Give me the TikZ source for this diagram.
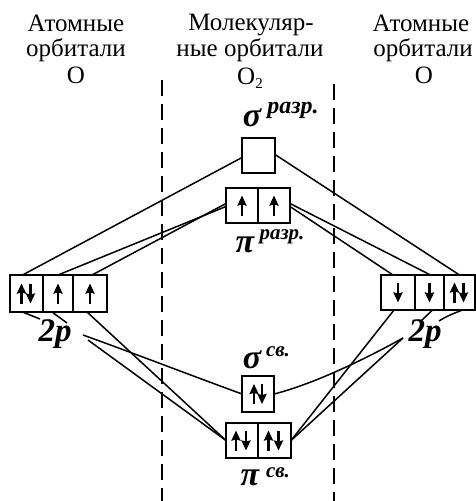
\documentclass[tikz,border=0pt]{standalone}
\usepackage{fontspec}
\setmainfont{Liberation Serif}
\usetikzlibrary{arrows.meta,calc}
\tikzset{
  x=1pt,y=-1pt,
  cell/.style={draw,line width=2.3pt,inner sep=0pt,outer sep=0pt},
  spin/.style={line width=2.2pt,-{Stealth[length=10pt,width=9pt,inset=1pt]}},
  conn/.style={line width=1.5pt},
  dashline/.style={line width=1.8pt,dash pattern=on 16pt off 8pt},
  head/.style={font=\fontsize{25}{25}\selectfont,inner sep=0pt},
  hand/.style={font=\fontsize{34}{34}\bfseries\itshape\selectfont,inner sep=0pt},
  handsmall/.style={font=\fontsize{21}{21}\bfseries\itshape\selectfont,inner sep=0pt},
  handmid/.style={font=\fontsize{24}{24}\bfseries\itshape\selectfont,inner sep=0pt},
  twop/.style={font=\fontsize{33}{33}\bfseries\itshape\selectfont,inner sep=0pt},
}
\newcommand{\spinup}[2][0]{\draw[spin] ([xshift=#1 pt,yshift=-10pt]#2.center) -- ([xshift=#1 pt,yshift=10pt]#2.center);}
\newcommand{\spindown}[2][0]{\draw[spin] ([xshift=#1 pt,yshift=10pt]#2.center) -- ([xshift=#1 pt,yshift=-10pt]#2.center);}
\begin{document}
\begin{tikzpicture}
\useasboundingbox (0,0) rectangle (476,501);
% headings
\node[head] (h1a) at (76,23) {Атомные};
\node[head] (h1b) at (76,50) {орбитали};
\node[head] (h1c) at (76,75) {О};
\node[head] (h2a) at (251,25) {Молекуляр-};
\node[head] (h2b) at (250,50) {ные орбитали};
\node[head] (h2c) at (250,78) {О\raisebox{-4pt}{\fontsize{15}{15}\selectfont 2}};
\node[head] (h3a) at (421,23) {Атомные};
\node[head] (h3b) at (423,50) {орбитали};
\node[head] (h3c) at (424,75) {О};
% dashed separators
\coordinate (d1a) at (162,80); \coordinate (d1b) at (162,501);
\coordinate (d2a) at (334,84); \coordinate (d2b) at (334,501);
\draw[dashline] (d1a) -- (d1b);
\draw[dashline] (d2a) -- (d2b);
% left atomic orbitals
\node[cell,minimum width=33pt,minimum height=37pt] (l1) at (26.5,293.5) {};
\node[cell,minimum width=30pt,minimum height=37pt] (l2) at (58,293.5) {};
\node[cell,minimum width=34pt,minimum height=37pt] (l3) at (90,293.5) {};
% right atomic orbitals
\node[cell,minimum width=34pt,minimum height=35pt] (r1) at (398,292.5) {};
\node[cell,minimum width=29pt,minimum height=35pt] (r2) at (429.5,292.5) {};
\node[cell,minimum width=31pt,minimum height=35pt] (r3) at (459.5,292.5) {};
% molecular orbitals
\node[cell,minimum width=33pt,minimum height=35pt] (sa) at (258.5,155.5) {};
\node[cell,minimum width=32pt,minimum height=35pt] (pa1) at (242,205.5) {};
\node[cell,minimum width=32pt,minimum height=35pt] (pa2) at (274,205.5) {};
\node[cell,minimum width=32pt,minimum height=36pt] (sb) at (258,394) {};
\node[cell,minimum width=32pt,minimum height=35pt] (pb1) at (242,440.5) {};
\node[cell,minimum width=33pt,minimum height=35pt] (pb2) at (274.5,440.5) {};
% spins
\spinup[-5]{l1}\spindown[4]{l1}
\spinup{l2}\spinup{l3}
\spindown{r1}\spindown{r2}
\spinup[-5]{r3}\spindown[4]{r3}
\spinup{pa1}\spinup{pa2}
\spinup[-4]{sb}\spindown[4]{sb}
\spinup[-6]{pb1}\spindown[4]{pb1}
\spinup[-6]{pb2}\spindown[4]{pb2}
% labels
\node[hand] (sal) at (252,118) {σ};
\node[handmid] (sal2) at (293,110) {разр.};
\node[hand] (pal) at (245,245) {π};
\node[handsmall] (pal2) at (282,237) {разр.};
\node[hand] (sbl) at (252,360) {σ};
\node[handsmall] (sbl2) at (278,352) {св.};
\node[hand] (pbl) at (250,478) {π};
\node[handsmall] (pbl2) at (278,473) {св.};
\node[twop] (pl) at (55,334) {2p};
\node[twop] (pr) at (425,334) {2p};
% connectors
\draw[conn] ([xshift=-4pt]l1.north) -- ([yshift=-2pt]sa.west);
\draw[conn] (l2.north) -- ([yshift=-1pt]pa1.west);
\draw[conn] ([xshift=2pt]l3.north) -- ([yshift=2pt]pa1.west);
\draw[conn] (r3.north) -- ([yshift=1pt]sa.east);
\draw[conn] ([xshift=-5pt]r1.north) -- ([yshift=-1pt]pa2.east);
\draw[conn] ([xshift=1pt]r2.north) -- ([yshift=2pt]pa2.east);
\draw[conn] ([xshift=-3pt]l3.south) -- (pb1.west);
\draw[conn] ([xshift=-4pt]r1.south) -- (pb2.east);
\coordinate (tl1) at (83,335);
\coordinate (tl2) at (88,340);
\coordinate (tr) at (403,338);
\draw[conn] (tl1) .. controls (125,350) and (190,375) .. (sb.west);
\draw[conn] (tl2) -- (pb1.west);
\draw[conn] (tr) .. controls (360,362) and (310,385) .. (sb.east);
\draw[conn] (tr) -- (pb2.east);
% ticks from boxes to the 2p labels
\coordinate (t1) at (40,319);
\coordinate (t2) at (67,323);
\coordinate (t3) at (421,321);
\coordinate (t4) at (439,321);
\draw[conn] ([xshift=-4pt]l1.south) -- (t1);
\draw[conn] ([xshift=-6pt]l2.south) -- (t2);
\draw[conn] ([xshift=3pt]r2.south) -- (t3);
\draw[conn] ([xshift=3pt]r3.south) .. controls (452,314) and (445,317) .. (t4);
\end{tikzpicture}
\end{document}
